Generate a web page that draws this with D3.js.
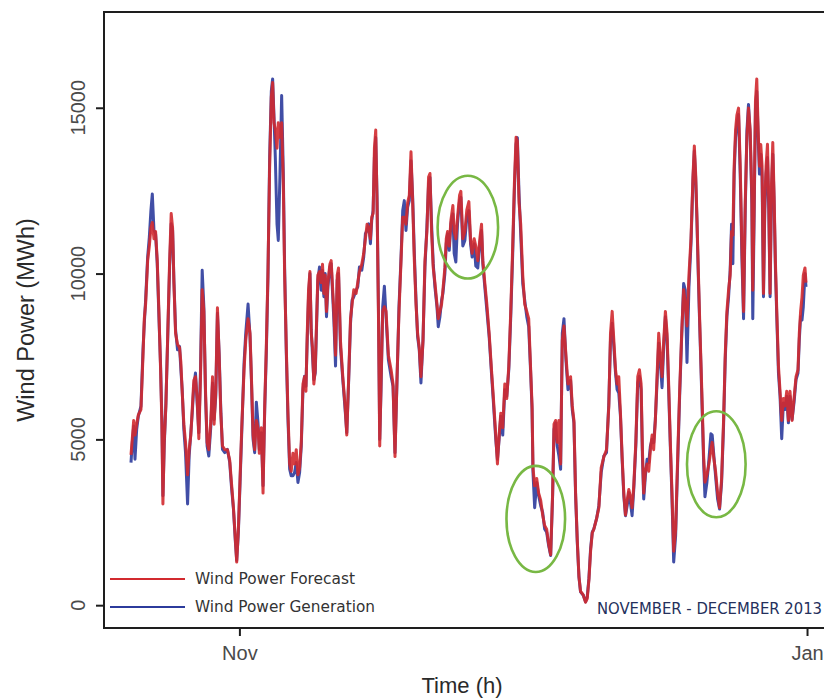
<!DOCTYPE html>
<html>
<head>
<meta charset="utf-8">
<script src="https://cdn.jsdelivr.net/npm/d3@7"></script>
<style>
  html, body { margin: 0; padding: 0; background: #fff; }
  svg { display: block; }
</style>
</head>
<body>
<svg id="chart" width="824" height="698"></svg>
<script>
// Hourly-sampled wind power, 20 Oct – 31 Dec 2013.
// Time is given in days relative to 1 Nov 2013 00:00 UTC.
const days = [
  -11.65,-11.51,-11.36,-11.22,-11.04,-10.86,-10.58,-10.36,-10.22,-10.08,
  -9.86,-9.68,-9.51,-9.36,-9.18,-9.01,-8.83,-8.65,-8.47,-8.33,
  -8.22,-8.08,-7.90,-7.72,-7.50,-7.33,-7.18,-7.04,-6.86,-6.65,
  -6.43,-6.29,-6.15,-5.97,-5.79,-5.57,-5.40,-5.22,-5.07,-4.90,
  -4.72,-4.54,-4.36,-4.18,-4.00,-3.82,-3.64,-3.47,-3.29,-3.07,
  -2.89,-2.72,-2.54,-2.36,-2.18,-2.00,-1.82,-1.57,-1.29,-1.04,
  -0.86,-0.64,-0.43,-0.29,-0.11,0.07,0.25,0.50,0.68,0.93,
  1.14,1.29,1.47,1.64,1.82,2.00,2.14,2.36,2.54,2.72,
  2.89,3.07,3.25,3.43,3.57,3.72,3.86,4.04,4.18,4.36,
  4.54,4.72,4.86,5.04,5.22,5.40,5.57,5.75,5.93,6.11,
  6.29,6.47,6.65,6.83,7.00,7.15,7.29,7.43,7.58,7.72,
  7.86,8.00,8.15,8.29,8.43,8.61,8.79,8.93,9.08,9.22,
  9.36,9.51,9.72,
  9.86,10.15,10.33,10.51,10.65,10.86,11.11,11.36,11.54,11.72,
  11.94,12.11,12.29,12.54,12.72,12.90,13.15,13.36,13.54,13.72,
  13.90,14.08,14.22,14.37,14.51,14.65,14.79,14.94,15.08,15.22,
  15.40,15.58,15.76,16.01,16.30,16.51,16.72,16.94,17.15,17.37,
  17.55,17.72,17.90,18.08,18.26,18.44,18.62,18.80,18.98,19.15,
  19.33,19.51,19.73,19.94,20.15,20.33,20.48,20.65,20.83,21.01,
  21.23,21.37,21.55,21.73,21.87,22.08,22.23,22.37,22.55,22.73,
  22.94,23.08,23.26,23.44,23.66,23.80,24.01,24.23,24.44,24.66,
  24.84,25.01,25.23,25.40,25.62,25.84,26.02,26.16,26.37,26.59,
  26.84,27.09,27.30,27.55,27.73,27.91,28.09,28.30,28.52,28.73,
  28.95,29.16,29.37,29.55,29.73,29.87,30.05,30.23,30.45,30.66,
  30.88,31.09,31.30,31.45,31.55,31.73,31.95,32.16,32.38,32.59,
  32.80,33.02,33.23,33.45,33.66,33.81,33.98,34.16,34.34,34.52,
  34.70,34.88,
  35.09,35.31,35.59,35.77,35.95,36.13,36.31,36.49,36.66,36.95,
  37.20,37.38,37.56,37.74,37.92,38.09,38.38,38.63,38.88,39.17,
  39.45,39.70,39.88,40.06,40.24,40.42,40.59,40.77,40.95,41.13,
  41.31,41.49,41.67,41.85,42.02,42.20,42.38,42.60,42.81,42.99,
  43.17,43.31,43.45,43.63,43.81,43.99,44.17,44.35,44.52,44.70,
  44.88,45.06,45.24,45.42,45.60,45.78,45.96,46.13,46.31,46.49,
  46.67,46.88,47.10,47.31,47.53,47.74,47.92,48.10,48.31,48.53,
  48.74,48.89,49.03,49.17,49.31,49.46,49.60,49.74,49.89,50.03,
  50.24,50.46,50.67,50.81,50.96,51.17,51.39,51.60,51.82,52.03,
  52.21,52.39,52.57,52.74,52.89,53.03,53.17,53.32,53.46,53.64,
  53.82,54.00,54.18,54.36,54.54,54.71,54.89,55.07,55.17,55.32,
  55.46,55.60,55.75,55.89,56.03,56.17,56.32,56.46,56.60,56.75,
  56.89,57.03,57.17,57.32,57.46,57.60,57.75,57.93,58.10,58.28,
  58.46,58.64,58.82,59.00,59.17,59.39,59.60,59.82,60.03,60.17,
  60.31,60.46,60.60,60.78,60.89
];

// Wind power forecast (MWh)
const forecast = [
  4530,5020,5570,5130,5460,5740,5900,7540,8640,9080,
  10390,10830,11380,11540,11050,11270,10390,8860,7100,5460,
  3050,4910,6010,7980,10390,11810,11380,9730,8200,7870,
  7760,7320,6450,5460,4910,3930,4690,5130,5900,6780,
  6890,6230,5020,6890,9510,8860,6450,4910,4690,5570,
  6890,5460,6450,8970,7540,5790,4800,4690,4690,4370,
  3710,2940,1960,1300,2290,3820,5350,7100,7980,8640,
  8200,6890,5130,4690,5570,5350,4580,5350,3380,6010,
  7760,10060,13240,15320,15760,14550,14330,13780,14550,14110,
  14550,12690,9950,7760,5790,4260,4040,4580,4260,4690,
  3930,4150,4910,6670,6890,6450,8200,9510,10060,8200,
  7760,6670,7100,8530,9950,10060,9730,10280,9400,9950,
  8860,9730,10280,
  10390,8860,7540,9950,10170,7980,6890,6010,5130,6670,
  8640,9080,9510,9400,9730,10060,10280,10610,11050,11490,
  11380,11050,11700,11810,13780,14330,12140,8860,4800,6670,
  8860,9000,8860,7540,7100,6670,4480,6890,8860,10390,
  11700,11700,11490,12140,12360,13670,12140,10390,9080,8200,
  7760,6890,7980,10390,11270,12910,13020,11270,10170,9730,
  9080,8640,8860,9080,9510,10170,11050,11270,10830,11600,
  12050,11270,11050,11700,12360,12480,11050,11270,11920,12170,
  11050,10610,11050,10830,10390,11050,11490,10390,9730,9080,
  8200,7100,6230,5130,4260,5130,5790,5350,6670,6230,
  7210,8860,10830,12690,14110,14000,12140,11490,9950,9080,
  8860,8640,7100,6010,4150,3600,3820,3380,3160,2720,
  2400,2290,1850,1520,3380,5460,5570,4910,5570,4260,
  7980,8420,
  7540,6670,6890,6010,5570,3380,1960,860,420,310,
  90,200,760,1630,2180,2290,2610,2940,4150,4480,
  4690,6010,8200,8860,7980,7100,6670,6890,5790,4480,
  3380,2720,3160,3490,3270,2940,3600,4910,6890,7100,
  6670,4690,3380,4040,4260,4040,4690,5130,4690,5570,
  6890,8200,7540,6890,7980,8860,8200,6670,4910,3380,
  1630,2290,4480,6450,8200,9510,9080,8420,9950,11050,
  12910,13850,13020,11700,10170,8640,7320,6010,4480,3710,
  3930,4260,4690,4910,4480,4040,3380,2940,3820,5570,
  7540,8860,9510,9950,11270,11160,13240,14330,14770,14990,
  13240,10830,8860,12140,14110,14990,14330,12360,9500,12030,
  15210,15870,14330,13240,13890,13240,9400,12140,13240,13900,
  12140,9400,12580,13950,12360,10390,8860,7210,6450,5570,
  6230,6010,6450,5570,6450,5570,6230,6890,7100,8200,
  8860,9290,9950,10170,9730
];

// Wind power generation (MWh)
const generation = [
  4300,4900,5400,4400,5300,5700,6000,7700,8500,9200,
  10500,11100,11900,12400,11300,11200,10300,8700,7200,5600,
  3300,4800,6100,7900,10200,11500,11300,9800,8300,7700,
  7800,7100,6500,5300,4600,3050,4500,5200,5800,6600,
  7000,6100,5200,7100,10100,9000,6300,4800,4500,5400,
  6700,5600,6300,8800,7600,5900,4700,4600,4700,4300,
  3600,2900,1900,1350,2200,3700,5200,7300,8200,9080,
  8100,6800,5000,4600,6120,5500,4700,5200,3600,5900,
  7600,9900,13500,15500,15870,14700,13500,11500,11000,13000,
  15370,13000,10200,7600,5600,4100,3900,3900,4000,4300,
  3700,4000,4800,6500,6900,6600,8000,9300,10000,8300,
  7500,6800,7000,8400,9800,10200,9500,10100,9300,10000,
  8700,9600,10200,
  10300,8600,7210,9800,10000,7800,6800,5900,5200,6600,
  8500,9200,9300,9500,9600,10200,10100,10500,11200,11300,
  11500,10900,11600,11900,13500,14100,12300,9000,5000,6500,
  9000,9620,8700,7400,6900,6600,4600,6800,9000,10500,
  11900,12200,11300,12000,12200,13400,12300,10600,9200,8100,
  7700,6700,8000,10200,11400,12700,12900,11500,10300,9600,
  9000,8400,8700,9200,9400,10000,10900,11200,10700,11500,
  11800,10610,10350,11500,12200,12300,10830,11000,11700,11900,
  10900,10500,10900,10230,10170,10900,11300,10300,9600,8900,
  8100,7000,6100,5000,4400,5000,5700,5130,6500,6300,
  7100,8700,10600,12500,13900,14100,12400,11200,9700,9200,
  8700,8400,7000,5900,4000,2940,3700,3300,3000,2800,
  2300,2200,1800,1500,3300,5300,5500,4800,4500,4100,
  8200,8640,
  7400,6500,6780,5900,5500,3300,1900,850,400,300,
  100,250,800,1700,2200,2300,2600,3000,4000,4500,
  4600,6100,8000,8500,7800,7000,6500,6400,5700,4400,
  3300,2700,3000,3400,3100,2700,3500,4800,6700,6900,
  6500,4500,3200,3900,4400,4300,4800,5000,4900,5600,
  6700,7900,7300,6560,7800,8700,8000,6500,4800,3200,
  1300,2100,4300,6300,8100,9700,9500,7320,9600,10900,
  12800,13700,12900,11600,10000,8500,7200,5800,4300,3270,
  3700,4400,5170,5130,4600,3900,3200,2900,3700,5400,
  7400,8700,9300,10100,11490,10300,13000,14100,14500,14800,
  13000,10500,8640,11900,14300,15100,14200,12100,8640,11800,
  15000,15500,14100,13000,13600,12900,9300,11900,13000,13500,
  11900,9300,12300,13600,12200,10200,8700,7000,6300,5020,
  6100,5900,6300,5500,6300,5600,6100,6800,7000,8000,
  8700,8600,9000,10000,9600
];

const seriesNames = ["Wind Power Forecast", "Wind Power Generation"];
const seriesColors = ["#d22a2f", "#2c3b9c"];
const yTicks = [0, 5000, 10000, 15000];
const yLimits = [0, 17200];
const xTickDates = ["2013-11-01", "2014-01-01"];
const xTickLabels = ["Nov", "Jan"];
const periodLabel = "NOVEMBER - DECEMBER 2013";

// Highlighted episodes: start/end day and value band of each ring
const ringStart = [21.3, 28.7, 48.1];
const ringEnd = [27.8, 35.0, 54.4];
const ringLow = [9850, 1000, 2650];
const ringHigh = [12950, 4200, 5850];

// ---------------------------------------------------------------
const svg = d3.select("#chart");
const frame = { left: 104, right: 833, top: 12, bottom: 628 };
const DAY = 864e5;
const origin = Date.UTC(2013, 10, 1);
const toDate = d => new Date(origin + d * DAY);

// axis ranges padded by 4% on each side
const dExt = d3.extent(days);
const dPad = (dExt[1] - dExt[0]) * 0.04;
const vPad = (yLimits[1] - yLimits[0]) * 0.04;

const x = d3.scaleUtc()
  .domain([toDate(dExt[0] - dPad), toDate(dExt[1] + dPad)])
  .range([frame.left, frame.right]);
const y = d3.scaleLinear()
  .domain([yLimits[0] - vPad, yLimits[1] + vPad])
  .range([frame.bottom, frame.top]);

svg.append("defs").append("clipPath").attr("id", "plotClip")
  .append("rect")
  .attr("x", frame.left).attr("y", frame.top)
  .attr("width", frame.right - frame.left)
  .attr("height", frame.bottom - frame.top);

const sansFont = "'Liberation Sans', Arial, Helvetica, sans-serif";
const narrowFont = "'Liberation Sans Narrow', 'Arial Narrow', 'DejaVu Sans Condensed', sans-serif";

// series lines: generation underneath, forecast on top
const series = [
  { name: seriesNames[1], color: seriesColors[1], values: generation },
  { name: seriesNames[0], color: seriesColors[0], values: forecast }
];
const line = d3.line()
  .x((d, i) => x(toDate(days[i])))
  .y(d => y(d))
  .curve(d3.curveLinear);

const plot = svg.append("g").attr("clip-path", "url(#plotClip)");
plot.selectAll("path.series")
  .data(series)
  .join("path")
  .attr("class", "series")
  .attr("d", s => line(s.values))
  .attr("fill", "none")
  .attr("stroke", s => s.color)
  .attr("stroke-width", 3)
  .attr("stroke-linejoin", "round")
  .attr("stroke-opacity", 0.9);

// highlight rings
const rings = d3.range(ringStart.length).map(i => ({
  cx: (x(toDate(ringStart[i])) + x(toDate(ringEnd[i]))) / 2,
  cy: (y(ringLow[i]) + y(ringHigh[i])) / 2,
  rx: (x(toDate(ringEnd[i])) - x(toDate(ringStart[i]))) / 2,
  ry: (y(ringLow[i]) - y(ringHigh[i])) / 2
}));
svg.append("g").selectAll("ellipse")
  .data(rings)
  .join("ellipse")
  .attr("cx", d => d.cx).attr("cy", d => d.cy)
  .attr("rx", d => d.rx).attr("ry", d => d.ry)
  .attr("fill", "none")
  .attr("stroke", "#78b844")
  .attr("stroke-width", 2.6);

// frame
svg.append("rect")
  .attr("x", frame.left).attr("y", frame.top)
  .attr("width", frame.right - frame.left)
  .attr("height", frame.bottom - frame.top)
  .attr("fill", "none")
  .attr("stroke", "#1e1e1e")
  .attr("stroke-width", 2);

// y axis: tick marks from the axis generator, labels set upright along the axis
const yAxis = svg.append("g")
  .attr("transform", `translate(${frame.left},0)`)
  .call(d3.axisLeft(y).tickValues(yTicks).tickSize(8).tickFormat(""));
yAxis.select(".domain").remove();
yAxis.selectAll(".tick line").attr("stroke", "#1e1e1e").attr("stroke-width", 2);
yAxis.selectAll(".tick text").remove();

svg.append("g").selectAll("text")
  .data(yTicks)
  .join("text")
  .attr("transform", d => `translate(${frame.left - 19},${y(d)}) rotate(-90)`)
  .attr("text-anchor", "middle")
  .attr("font-family", sansFont)
  .attr("font-size", 20)
  .attr("fill", "#4a4a4a")
  .text(d3.format("d"));

// x axis
const xAxis = svg.append("g")
  .attr("transform", `translate(0,${frame.bottom})`)
  .call(d3.axisBottom(x)
    .tickValues(xTickDates.map(s => new Date(s + "T00:00:00Z")))
    .tickSize(8)
    .tickFormat((d, i) => xTickLabels[i]));
xAxis.select(".domain").remove();
xAxis.selectAll(".tick line").attr("stroke", "#1e1e1e").attr("stroke-width", 2);
xAxis.selectAll(".tick text")
  .attr("y", 18)
  .attr("font-family", sansFont)
  .attr("font-size", 20)
  .attr("fill", "#4a4a4a");

// axis titles
svg.append("text")
  .attr("transform", `translate(34,${(frame.top + frame.bottom) / 2}) rotate(-90)`)
  .attr("text-anchor", "middle")
  .attr("font-family", sansFont)
  .attr("font-size", 23.5)
  .attr("fill", "#2a2a2a")
  .text("Wind Power (MWh)");
svg.append("text")
  .attr("x", 462).attr("y", 693)
  .attr("text-anchor", "middle")
  .attr("font-family", sansFont)
  .attr("font-size", 22)
  .attr("fill", "#2a2a2a")
  .text("Time (h)");

// legend
const legendRows = [
  { name: seriesNames[0], color: seriesColors[0], y: 579, width: 160 },
  { name: seriesNames[1], color: seriesColors[1], y: 607, width: 180 }
];
const legend = svg.append("g");
legend.selectAll("line")
  .data(legendRows)
  .join("line")
  .attr("x1", 110).attr("x2", 185)
  .attr("y1", d => d.y).attr("y2", d => d.y)
  .attr("stroke", d => d.color)
  .attr("stroke-width", 2.2);
legend.selectAll("text")
  .data(legendRows)
  .join("text")
  .attr("x", 195).attr("y", d => d.y + 5)
  .attr("font-family", narrowFont)
  .attr("font-size", 15)
  .attr("fill", "#333")
  .attr("textLength", d => d.width)
  .attr("lengthAdjust", "spacingAndGlyphs")
  .text(d => d.name);

// period caption
svg.append("text")
  .attr("x", 597).attr("y", 614)
  .attr("font-family", narrowFont)
  .attr("font-size", 16)
  .attr("fill", "#24305c")
  .attr("textLength", 225)
  .attr("lengthAdjust", "spacingAndGlyphs")
  .text(periodLabel);
</script>
</body>
</html>
